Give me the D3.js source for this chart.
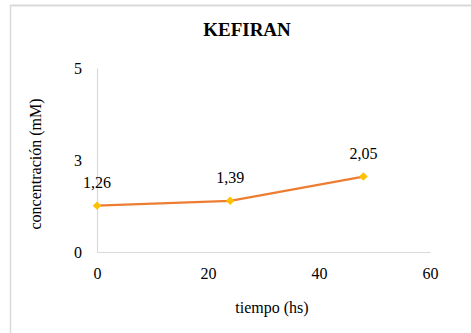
<!DOCTYPE html>
<html>
<head>
<meta charset="utf-8">
<script src="https://cdn.jsdelivr.net/npm/d3@7"></script>
<style>
  html, body { margin: 0; padding: 0; background: #fff; }
  svg { display: block; }
</style>
</head>
<body>
<svg id="chart" width="471" height="333"></svg>
<script>
// Kefiran concentration over time
const times = [0, 24, 48];
const concentrations = [1.26, 1.39, 2.05];
const valueLabels = ["1,26", "1,39", "2,05"];
const xTicks = [0, 20, 40, 60];
const yTicks = [0, 2.5, 5];
const yTickLabels = ["0", "3", "5"];

const FONT = "'Liberation Serif', 'DejaVu Serif', serif";

const svg = d3.select("#chart");
const W = 471, H = 333;
const m = { left: 97, right: 41, top: 68, bottom: 81 };

// frame of the chart area
svg.append("line").attr("x1", 10).attr("x2", W).attr("y1", 5.5).attr("y2", 5.5)
  .attr("stroke", "#d9d9d9").attr("stroke-width", 2);
svg.append("line").attr("x1", 10.5).attr("x2", 10.5).attr("y1", 5).attr("y2", H)
  .attr("stroke", "#d9d9d9").attr("stroke-width", 1.5);

const x = d3.scaleLinear().domain([0, 60]).range([m.left, W - m.right]);
const y = d3.scaleLinear().domain([0, 5]).range([H - m.bottom, m.top]);

// axes
const xAxis = svg.append("g").attr("transform", `translate(0,${y(0)})`)
  .call(d3.axisBottom(x).tickValues(xTicks).tickSize(0).tickPadding(16).tickFormat(d3.format("d")));
const yAxis = svg.append("g").attr("transform", `translate(${x(0)},0)`)
  .call(d3.axisLeft(y).tickValues(yTicks).tickSize(0).tickPadding(15)
    .tickFormat((d, i) => yTickLabels[i]));
[xAxis, yAxis].forEach(g => {
  g.attr("font-family", FONT);
  g.select(".domain").attr("stroke", "#d9d9d9").attr("stroke-width", 1.2);
  g.selectAll("text").style("font-family", FONT).style("font-size", "16px").attr("fill", "#000");
});

// title and axis titles
svg.append("text").attr("x", 247).attr("y", 36).attr("text-anchor", "middle")
  .style("font-family", FONT).style("font-size", "19px").style("font-weight", "bold").text("KEFIRAN");
svg.append("text").attr("x", 272).attr("y", 313).attr("text-anchor", "middle")
  .style("font-family", FONT).style("font-size", "16px").text("tiempo (hs)");
svg.append("text").attr("transform", "translate(41,164) rotate(-90)").attr("text-anchor", "middle")
  .style("font-family", FONT).style("font-size", "16px").text("concentración (mM)");

// series
const pts = times.map((t, i) => ({ t, v: concentrations[i], label: valueLabels[i] }));
svg.append("path").datum(pts)
  .attr("fill", "none").attr("stroke", "#ED7D31").attr("stroke-width", 2.2)
  .attr("d", d3.line().x(d => x(d.t)).y(d => y(d.v)));
svg.selectAll(".mk").data(pts).enter().append("path")
  .attr("class", "mk")
  .attr("transform", d => `translate(${x(d.t)},${y(d.v)}) rotate(45)`)
  .attr("d", d3.symbol(d3.symbolSquare, 36))
  .attr("fill", "#FFC000");
svg.selectAll(".lbl").data(pts).enter().append("text")
  .attr("class", "lbl")
  .attr("x", d => x(d.t)).attr("y", d => y(d.v) - 18)
  .attr("text-anchor", "middle")
  .style("font-family", FONT).style("font-size", "16px")
  .text(d => d.label);
</script>
</body>
</html>
